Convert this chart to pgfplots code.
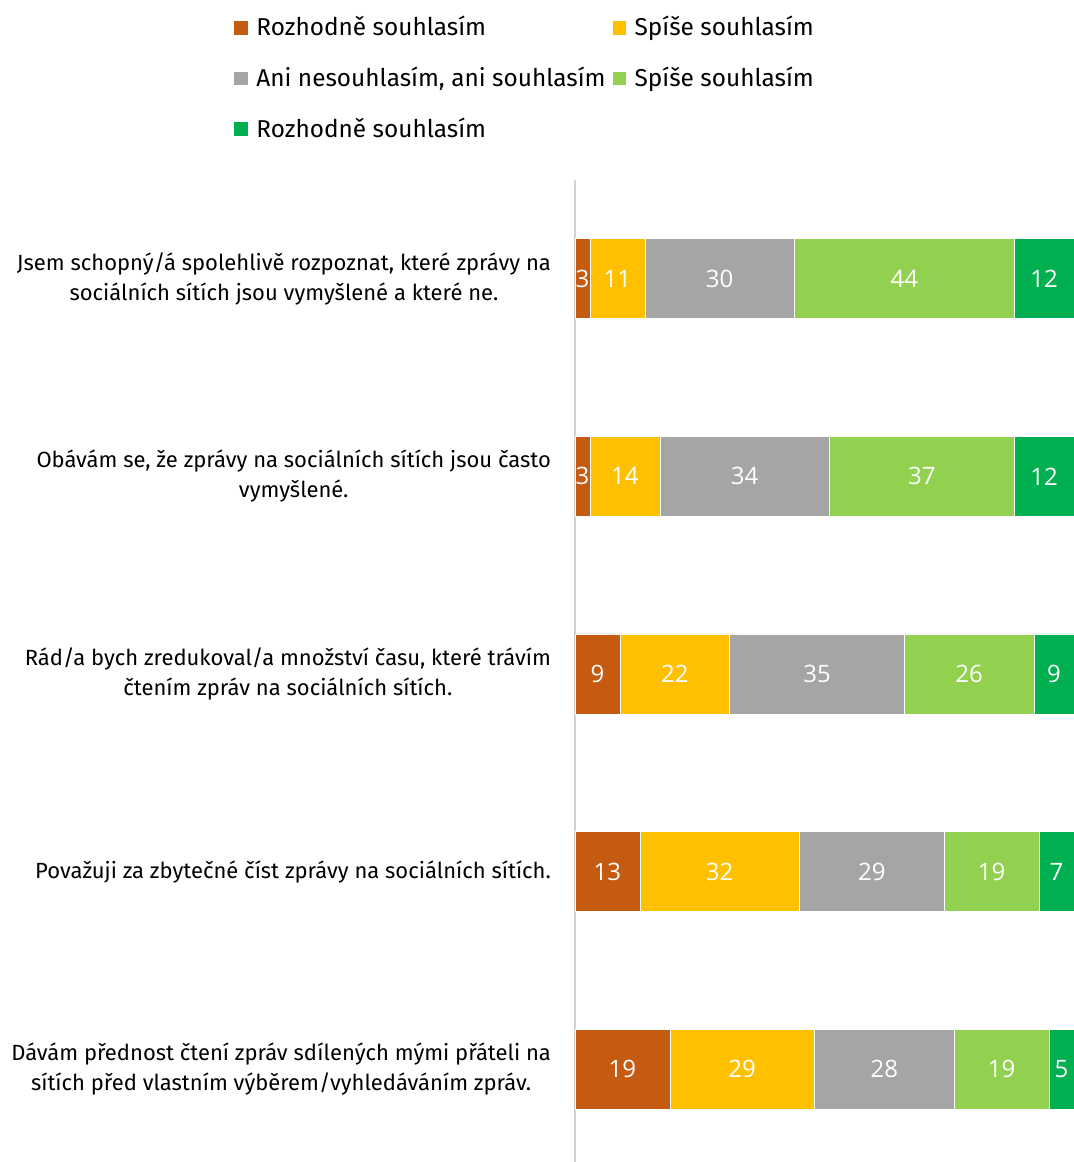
\documentclass[border=0pt]{standalone}
\usepackage{pgfplots}
\pgfplotsset{compat=1.18}
\usepackage{fontspec}
\setmainfont{Fira Sans}
\newfontfamily\numfont{Open Sans}

\definecolor{rozhodneNe}{HTML}{C55A11}
\definecolor{spiseNe}{HTML}{FFC000}
\definecolor{neutral}{HTML}{A5A5A5}
\definecolor{spiseAno}{HTML}{92D050}
\definecolor{rozhodneAno}{HTML}{00B050}

\begin{document}
\begin{tikzpicture}
\begin{axis}[
  name=ax,
  xbar stacked, bar width=40pt,
  scale only axis, width=249.5pt, height=491pt,
  xmin=0, xmax=100, ymin=-0.5, ymax=4.47, y dir=reverse,
  hide x axis,
  axis y line*=left,
  y axis line style={draw=black!18, line width=1pt, -},
  ytick={0,1,2,3,4}, major tick length=0pt,
  yticklabels={
    {Jsem schopný/á spolehlivě rozpoznat, které zprávy na\\sociálních sítích jsou vymyšlené a které ne.},
    {Obávám se, že zprávy na sociálních sítích jsou často\\vymyšlené.},
    {Rád/a bych zredukoval/a množství času, které trávím\\čtením zpráv na sociálních sítích.},
    {Považuji za zbytečné číst zprávy na sociálních sítích.},
    {Dávám přednost čtení zpráv sdílených mými přáteli na\\sítích před vlastním výběrem/vyhledáváním zpráv.}},
  yticklabel style={align=center, font=\fontsize{11}{15}\selectfont, xshift=-8.5pt},
  point meta=rawx,
  nodes near coords={\pgfmathprintnumber[assume math mode=true]{\pgfplotspointmeta}},
  every node near coord/.append style={anchor=center, text=white,
    font=\numfont\fontsize{12}{14}\selectfont},
  legend columns=2,
  legend cell align=left,
  legend image code/.code={\fill[#1] (0pt,-3.6pt) rectangle (7.2pt,3.6pt);},
  legend style={draw=none, fill=none, at={(axis description cs:0,1)},
    anchor=north west, xshift=-174pt, yshift=86pt,
    font=\fontsize{12.2}{14}\selectfont, row sep=10pt,
    /tikz/every odd column/.append style={column sep=2pt},
    /tikz/every even column/.append style={column sep=1pt}},
]
\addplot[fill=rozhodneNe, draw=white, line width=0.3pt] coordinates {(3,0) (3,1) (9,2) (13,3) (19,4)};
\addlegendentry{Rozhodně souhlasím}
\addplot[fill=spiseNe, draw=white, line width=0.3pt] coordinates {(11,0) (14,1) (22,2) (32,3) (29,4)};
\addlegendentry{Spíše souhlasím}
\addplot[fill=neutral, draw=white, line width=0.3pt] coordinates {(30,0) (34,1) (35,2) (29,3) (28,4)};
\addlegendentry{Ani nesouhlasím, ani souhlasím}
\addplot[fill=spiseAno, draw=white, line width=0.3pt] coordinates {(44,0) (37,1) (26,2) (19,3) (19,4)};
\addlegendentry{Spíše souhlasím}
% row 3 labels add up to 101: its last bar is drawn to the 100 mark, labelled 9
\addplot[fill=rozhodneAno, draw=white, line width=0.3pt, point meta=explicit]
  coordinates {(12,0) [12] (12,1) [12] (8,2) [9] (7,3) [7] (5,4) [5]};
\addlegendentry{Rozhodně souhlasím}
\end{axis}
\pgfresetboundingbox
\path ([xshift=-287.5pt]ax.south west) rectangle ([yshift=90pt]ax.north east);
\end{tikzpicture}
\end{document}
